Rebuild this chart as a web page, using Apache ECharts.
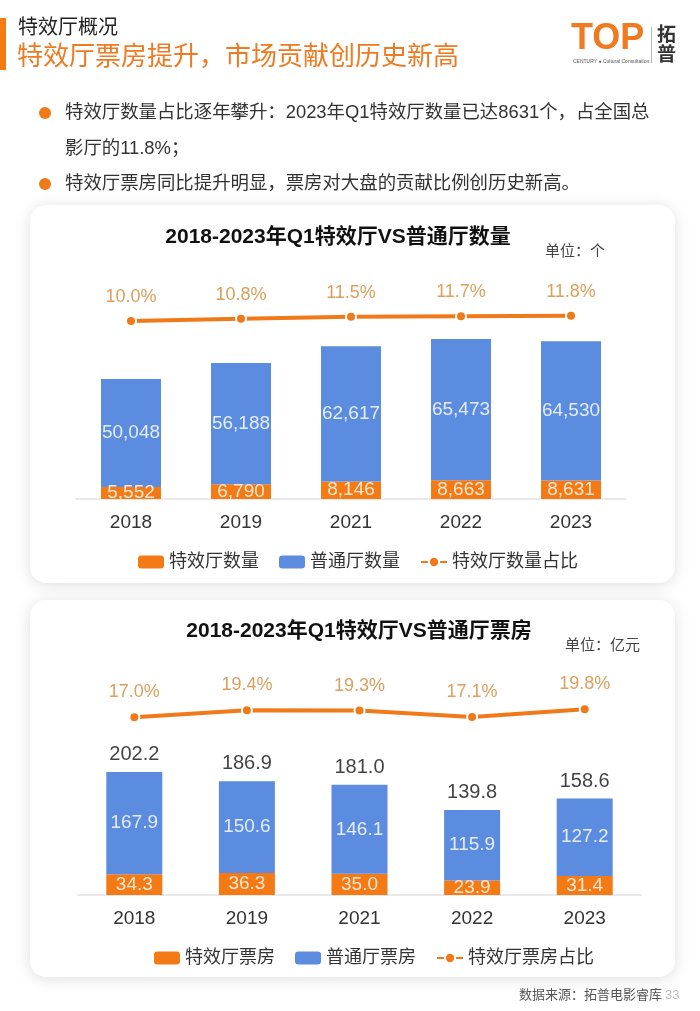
<!DOCTYPE html>
<html><head><meta charset="utf-8">
<script src="https://cdn.jsdelivr.net/npm/echarts/dist/echarts.min.js"></script>
<style>html,body{margin:0;padding:0;background:#fff}#c{width:700px;height:1011px}</style>
</head><body><div id="c"></div>
<script>
const years = ['2018', '2019', '2021', '2022', '2023'];
const specialHalls = [5552, 6790, 8146, 8663, 8631];
const normalHalls = [50048, 56188, 62617, 65473, 64530];
const hallShare = [10.0, 10.8, 11.5, 11.7, 11.8];
const specialBox = [34.3, 36.3, 35.0, 23.9, 31.4];
const normalBox = [167.9, 150.6, 146.1, 115.9, 127.2];
const totalBox = [202.2, 186.9, 181.0, 139.8, 158.6];
const boxShare = [17.0, 19.4, 19.3, 17.1, 19.8];

const FF = '"Liberation Sans", "Noto Sans CJK SC", sans-serif';
const ORANGE = '#f47a16';
const BLUE = '#5b8ce0';
const LINE = '#f07a1a';
const PCT = '#dba05e';

const chart = echarts.init(document.getElementById('c'), null, {renderer: 'canvas'});

function txt(text, x, y, size, color, opts) {
  return Object.assign({
    type: 'text', z: 5,
    style: Object.assign({text: text, x: x, y: y, font: size + 'px ' + FF, fill: color,
      textAlign: 'left', textVerticalAlign: 'middle'}, (opts && opts.style) || {})
  }, (opts && opts.el) || {});
}

const graphics = [
  // cards
  {type: 'rect', z: -10, shape: {x: 30, y: 205, width: 645, height: 378, r: 16},
   style: {fill: '#fff', shadowBlur: 16, shadowColor: 'rgba(0,0,0,0.13)', shadowOffsetY: 2}},
  {type: 'rect', z: -10, shape: {x: 30, y: 600, width: 645, height: 377, r: 16},
   style: {fill: '#fff', shadowBlur: 16, shadowColor: 'rgba(0,0,0,0.13)', shadowOffsetY: 2}},
  // header
  {type: 'rect', z: 5, shape: {x: 0, y: 18, width: 6, height: 52}, style: {fill: ORANGE}},
  txt('特效厅概况', 18, 28, 20, '#222'),
  txt('特效厅票房提升，市场贡献创历史新高', 17, 58, 26, '#ee7a22'),
  // logo
  txt('TOP', 571, 39, 36, '#f07a20', {style: {font: 'bold 36px "Liberation Sans", Arial, sans-serif'}}),
  txt('CENTURY ● Cultural Consultation', 573, 62, 5, '#555', {style: {font: '5px "Liberation Sans", sans-serif'}}),
  {type: 'rect', z: 5, shape: {x: 651, y: 27, width: 1, height: 36}, style: {fill: '#bbb'}},
  txt('拓', 657, 36, 19, '#333', {style: {font: 'bold 19px ' + FF}}),
  txt('普', 657, 56, 19, '#333', {style: {font: 'bold 19px ' + FF}}),
  // bullets
  {type: 'circle', z: 5, shape: {cx: 45, cy: 113, r: 6}, style: {fill: LINE}},
  txt('特效厅数量占比逐年攀升：2023年Q1特效厅数量已达8631个，占全国总', 65, 113, 18.4, '#333'),
  txt('影厅的11.8%；', 65, 149, 18.4, '#333'),
  {type: 'circle', z: 5, shape: {cx: 45, cy: 184, r: 6}, style: {fill: LINE}},
  txt('特效厅票房同比提升明显，票房对大盘的贡献比例创历史新高。', 65, 184, 18.4, '#333'),
  // chart titles & units
  txt('2018-2023年Q1特效厅VS普通厅数量', 338, 237, 21, '#111', {style: {textAlign: 'center', font: 'bold 21px ' + FF}}),
  txt('单位：个', 545, 252, 15, '#444'),
  txt('2018-2023年Q1特效厅VS普通厅票房', 359, 631, 21, '#111', {style: {textAlign: 'center', font: 'bold 21px ' + FF}}),
  txt('单位：亿元', 565, 646, 15, '#444'),
  // source
  txt('数据来源：拓普电影睿库', 662, 995, 13, '#555', {style: {textAlign: 'right'}}),
  txt('33', 665, 995, 13, '#bbb')
];

const fmtComma = p => Number(p.value).toLocaleString('en-US');
const fmt1 = p => Number(p.value).toFixed(1);
const fmtPct = p => Number(p.value).toFixed(1) + '%';

const xAxisBase = {
  type: 'category', data: years,
  axisLine: {lineStyle: {color: '#e2e2e2', width: 1.5}},
  axisTick: {show: false},
  axisLabel: {color: '#333', fontSize: 19, margin: 14, fontFamily: FF}
};

const option = {
  animation: false,
  backgroundColor: '#fff',
  textStyle: {fontFamily: FF},
  graphic: graphics,
  grid: [
    {left: 76, top: 280, width: 550, height: 219},
    {left: 78, top: 670, width: 563, height: 225}
  ],
  xAxis: [
    Object.assign({gridIndex: 0}, xAxisBase),
    Object.assign({gridIndex: 1}, xAxisBase)
  ],
  yAxis: [
    {gridIndex: 0, type: 'value', min: 0, max: 101500, show: false},
    {gridIndex: 0, type: 'value', min: -53.6, max: 24.6, show: false},
    {gridIndex: 1, type: 'value', min: 0, max: 370, show: false},
    {gridIndex: 1, type: 'value', min: -45.2, max: 33.5, show: false}
  ],
  legend: [
    {data: ['特效厅数量', '普通厅数量', '特效厅数量占比'], left: 133, top: 548,
     itemWidth: 26, itemHeight: 13, itemGap: 20, selectedMode: false,
     textStyle: {fontSize: 18, color: '#333', fontFamily: FF}},
    {data: ['特效厅票房', '普通厅票房', '特效厅票房占比'], left: 149, top: 944,
     itemWidth: 26, itemHeight: 13, itemGap: 20, selectedMode: false,
     textStyle: {fontSize: 18, color: '#333', fontFamily: FF}}
  ],
  series: [
    {name: '特效厅数量', type: 'bar', xAxisIndex: 0, yAxisIndex: 0, stack: 'halls', barWidth: 60,
     data: specialHalls, itemStyle: {color: ORANGE},
     label: {show: true, position: 'inside', color: '#fde6d0', fontSize: 19, formatter: fmtComma}},
    {name: '普通厅数量', type: 'bar', xAxisIndex: 0, yAxisIndex: 0, stack: 'halls', barWidth: 60,
     data: normalHalls, itemStyle: {color: BLUE},
     label: {show: true, position: 'inside', color: '#e4ecfa', fontSize: 19, formatter: fmtComma}},
    {name: '特效厅数量占比', type: 'line', xAxisIndex: 0, yAxisIndex: 1, data: hallShare,
     symbol: 'circle', symbolSize: 10, lineStyle: {color: LINE, width: 4},
     itemStyle: {color: LINE, borderColor: '#fff', borderWidth: 2},
     label: {show: true, position: 'top', distance: 9, color: PCT, fontSize: 18, formatter: fmtPct}},

    {name: '特效厅票房', type: 'bar', xAxisIndex: 1, yAxisIndex: 2, stack: 'box', barWidth: 56,
     data: specialBox, itemStyle: {color: ORANGE},
     label: {show: true, position: 'inside', color: '#fde6d0', fontSize: 19, formatter: fmt1}},
    {name: '普通厅票房', type: 'bar', xAxisIndex: 1, yAxisIndex: 2, stack: 'box', barWidth: 56,
     data: normalBox, itemStyle: {color: BLUE},
     label: {show: true, position: 'inside', color: '#e4ecfa', fontSize: 19, formatter: fmt1}},
    {name: '总票房', type: 'scatter', xAxisIndex: 1, yAxisIndex: 2, data: totalBox,
     symbolSize: 1, itemStyle: {color: 'rgba(0,0,0,0)'},
     label: {show: true, position: 'top', distance: 7, color: '#111', fontSize: 20, formatter: fmt1}},
    {name: '特效厅票房占比', type: 'line', xAxisIndex: 1, yAxisIndex: 3, data: boxShare,
     symbol: 'circle', symbolSize: 10, lineStyle: {color: LINE, width: 4},
     itemStyle: {color: LINE, borderColor: '#fff', borderWidth: 2},
     label: {show: true, position: 'top', distance: 10, color: PCT, fontSize: 18, formatter: fmtPct}}
  ]
};
chart.setOption(option);
</script>
</body></html>
